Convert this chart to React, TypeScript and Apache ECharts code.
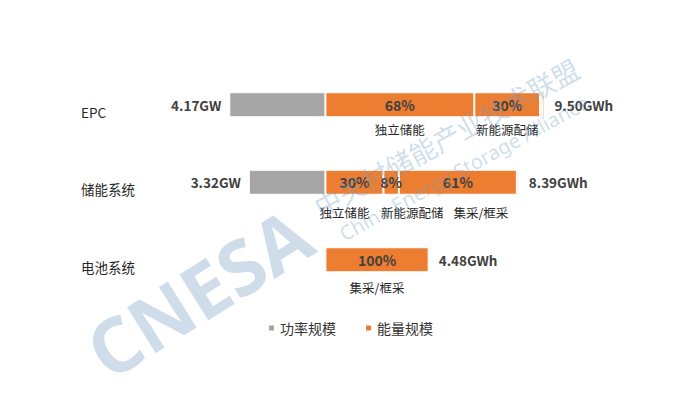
import React, { useEffect, useRef } from "react";
import * as echarts from "echarts";

const categories = ["EPC", "储能系统", "电池系统"];
const powerGW: (number | null)[] = [4.17, 3.32, null];
const energyGWh = [9.5, 8.39, 4.48];
const segmentNames = ["独立储能", "新能源配储", "集采/框采", "其他"];
const shareIndependent = [68, 30, 0];
const shareRenewable = [30, 8, 0];
const shareProcurement = [1, 61, 100];
const shareOther = [1, 1, 0];
const legendNames = ["功率规模", "能量规模"];

const shares = [shareIndependent, shareRenewable, shareProcurement, shareOther];

// label placement tweaks (pixels), per category then per segment
const subLabelDistance = [6, 11, 9];
const subLabelOffsetX = [
  [0, 0, 0, 0],
  [-10, 21, 23, 0],
  [0, 0, 0, 0],
];

const FONT = "'Noto Sans CJK SC', 'Noto Sans', sans-serif";
const ORANGE = "#ed7d31";
const GRAY = "#a5a5a5";

export default function App() {
  const ref = useRef<HTMLDivElement>(null);
  useEffect(() => {
    if (!ref.current) return;
    const chart = echarts.init(ref.current, undefined, { renderer: "svg" });

    const segValue = (s: number, c: number) =>
      +((energyGWh[c] * shares[s][c]) / 100).toFixed(4);

    const segSeries = shares.map((sh, s) => ({
      name: legendNames[1],
      type: "bar",
      stack: "main",
      barWidth: 25,
      barGap: "-100%",
      itemStyle: { color: ORANGE, borderColor: "#fff", borderWidth: 1 },
      label: {
        show: true,
        position: "inside",
        fontFamily: FONT,
        fontSize: 14,
        fontWeight: "bold",
        color: "#404040",
        formatter: (p: any) => (sh[p.dataIndex] >= 5 ? sh[p.dataIndex] + "%" : ""),
      },
      data: categories.map((_, c) => segValue(s, c)),
    }));

    const subSeries = shares.map((sh, s) => ({
      name: "sub" + s,
      type: "bar",
      stack: "sub",
      barWidth: 25,
      barGap: "-100%",
      silent: true,
      itemStyle: { color: "rgba(0,0,0,0)" },
      data: categories.map((_, c) => ({
        value: segValue(s, c),
        label: {
          show: sh[c] >= 5,
          position: "bottom",
          distance: subLabelDistance[c],
          offset: [subLabelOffsetX[c][s], 0],
          formatter: segmentNames[s],
          fontFamily: FONT,
          fontSize: 12.5,
          color: "#262626",
        },
      })),
    }));

    const option: any = {
      animation: false,
      backgroundColor: "#ffffff",
      textStyle: { fontFamily: FONT },
      grid: { left: 141, width: 461, top: 66, height: 232.5 },
      xAxis: {
        type: "value",
        min: -8,
        max: 12,
        show: false,
      },
      yAxis: {
        type: "category",
        data: categories,
        inverse: true,
        axisLine: { show: false, onZero: false },
        axisTick: { show: false },
        axisLabel: {
          align: "left",
          verticalAlign: "top",
          margin: 60,
          fontFamily: FONT,
          fontSize: 13.5,
          color: "#262626",
        },
      },
      legend: {
        data: legendNames,
        left: "center",
        top: 316,
        icon: "rect",
        itemWidth: 7,
        itemHeight: 7,
        itemGap: 28,
        textStyle: { fontFamily: FONT, fontSize: 14, color: "#333" },
      },
      series: [
        {
          name: legendNames[0],
          type: "bar",
          stack: "main",
          barWidth: 25,
          barGap: "-100%",
          itemStyle: { color: GRAY, borderColor: "#fff", borderWidth: 1 },
          label: {
            show: true,
            position: "left",
            distance: 8,
            fontFamily: FONT,
            fontSize: 13.5,
            fontWeight: "bold",
            color: "#404040",
            formatter: (p: any) =>
              powerGW[p.dataIndex] == null ? "" : (powerGW[p.dataIndex] as number).toFixed(2) + "GW",
          },
          data: powerGW.map((v) => (v == null ? "-" : -v)),
        },
        ...segSeries,
        ...subSeries,
        {
          name: "total",
          type: "bar",
          stack: "total",
          barWidth: 25,
          barGap: "-100%",
          silent: true,
          itemStyle: { color: "rgba(0,0,0,0)" },
          label: {
            show: true,
            position: "right",
            distance: 10,
            fontFamily: FONT,
            fontSize: 13.5,
            fontWeight: "bold",
            color: "#404040",
            formatter: (p: any) => energyGWh[p.dataIndex].toFixed(2) + "GWh",
          },
          data: energyGWh,
        },
      ],
      graphic: [
        {
          type: "text",
          x: 198,
          y: 292,
          rotation: 0.56,
          z: 100,
          silent: true,
          style: {
            text: "CNESA",
            fontFamily: "'Open Sans', 'Noto Sans', sans-serif",
            fontWeight: "bold",
            fontSize: 76,
            fill: "rgba(120,160,195,0.36)",
            align: "center",
            verticalAlign: "middle",
          },
        },
        {
          type: "text",
          x: 446,
          y: 137,
          rotation: 0.5,
          z: 100,
          silent: true,
          style: {
            text: "中关村储能产业技术联盟",
            fontFamily: FONT,
            fontSize: 27,
            fill: "rgba(120,160,195,0.35)",
            align: "center",
            verticalAlign: "middle",
          },
        },
        {
          type: "text",
          x: 464,
          y: 168,
          rotation: 0.5,
          z: 100,
          silent: true,
          style: {
            text: "China Energy Storage Alliance",
            fontFamily: "'Noto Sans', sans-serif",
            fontSize: 20,
            fill: "rgba(120,160,195,0.35)",
            align: "center",
            verticalAlign: "middle",
          },
        },
      ],
    };
    chart.setOption(option);
    return () => chart.dispose();
  }, []);
  return (
    <div
      ref={ref}
      style={{ position: "fixed", left: 0, top: 0, width: 700, height: 420 }}
    />
  );
}
